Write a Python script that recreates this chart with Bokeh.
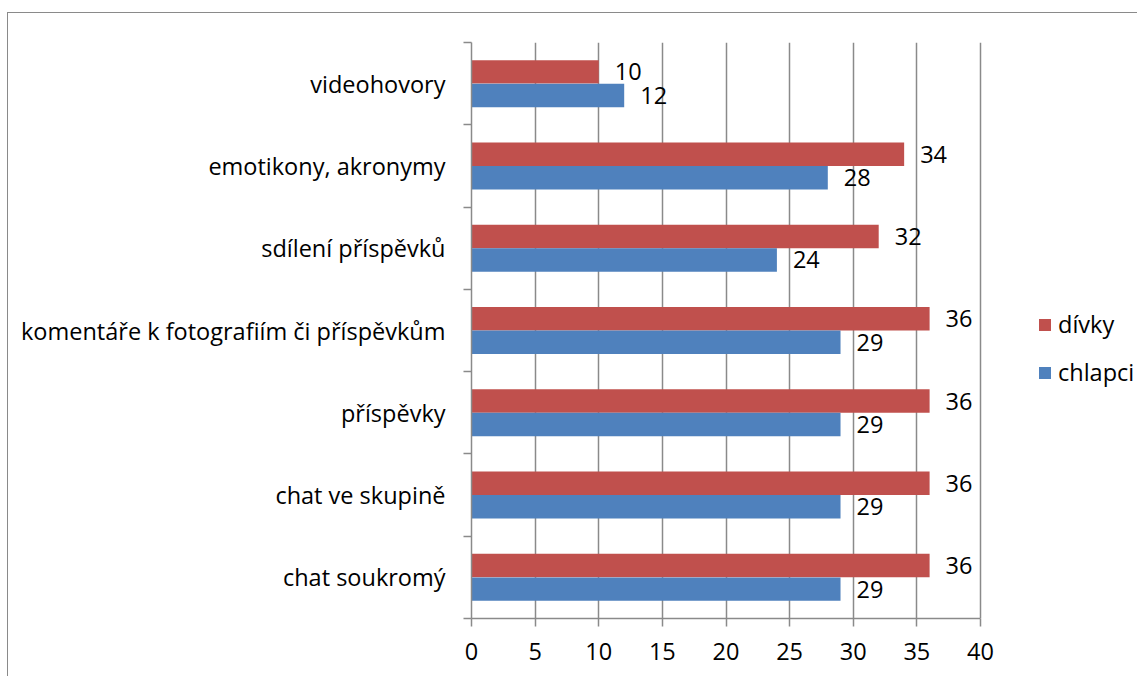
from bokeh.plotting import figure
from bokeh.models import Range1d, FixedTicker, Legend, LegendItem, ColumnDataSource
from bokeh.transform import dodge
from bokeh.core.properties import value
from bokeh.embed import file_html
from bokeh.resources import INLINE

categories = ["chat soukromý", "chat ve skupině", "příspěvky",
              "komentáře k fotografiím či příspěvkům", "sdílení příspěvků",
              "emotikony, akronymy", "videohovory"]
divky = [36, 36, 36, 36, 32, 34, 10]
chlapci = [29, 29, 29, 29, 24, 28, 12]
x_ticks = [0, 5, 10, 15, 20, 25, 30, 35, 40]

RED = "#C0504D"
BLUE = "#4F81BD"
GRAY = "#8a8a8a"
FONT = "Open Sans"
FS = "23.5px"

n = len(categories)
idx = list(range(n))

# canvas geometry (canvas origin sits at page (8, 13) because of CSS margin+border)
W, H = 1130, 664
F_LEFT, F_TOP, F_BOTTOM = 463, 29, 605
AXIS_PX = 509          # pixels spanned by 0..40
F_RIGHT = W - 4
x_end = x_ticks[-1] * (F_RIGHT - F_LEFT) / AXIS_PX

p = figure(width=W, height=H, output_backend="svg", toolbar_location=None,
           y_range=Range1d(-0.5, n - 0.5), x_range=Range1d(0, x_end),
           min_border_left=F_LEFT, min_border_right=W - F_RIGHT,
           min_border_top=F_TOP, min_border_bottom=H - F_BOTTOM)
p.outline_line_color = None
p.background_fill_color = "white"
p.border_fill_color = "white"
p.styles = {"margin-left": "7px", "margin-top": "12px",
            "border-left": "1px solid #8a8a8a", "border-top": "1px solid #8a8a8a"}

src = ColumnDataSource(dict(idx=idx, cat=categories, d=divky, c=chlapci,
                            dl=[str(v) for v in divky], cl=[str(v) for v in chlapci]))

rd = p.hbar(y=dodge("idx", 0.143), right="d", left=0, height=0.285,
            source=src, fill_color=RED, line_color=None)
rc = p.hbar(y=dodge("idx", -0.143), right="c", left=0, height=0.285,
            source=src, fill_color=BLUE, line_color=None)

p.text(x="d", y=dodge("idx", 0.143), text="dl", source=src,
       x_offset=16, text_baseline="middle", text_font=value(FONT),
       text_font_size=FS, text_color="black")
p.text(x="c", y=dodge("idx", -0.143), text="cl", source=src,
       x_offset=16, text_baseline="middle", text_font=value(FONT),
       text_font_size=FS, text_color="black")

# x axis
xa = p.xaxis[0]
xa.ticker = FixedTicker(ticks=x_ticks)
xa.bounds = (x_ticks[0], x_ticks[-1])
xa.axis_line_color = GRAY
xa.axis_line_width = 1.5
xa.major_tick_line_color = GRAY
xa.major_tick_line_width = 1.5
xa.major_tick_out = 8
xa.major_tick_in = 0
xa.minor_tick_line_color = None
xa.major_label_text_font = FONT
xa.major_label_text_font_size = FS
xa.major_label_text_color = "black"
xa.major_label_standoff = 16

p.xgrid.ticker = FixedTicker(ticks=x_ticks)
p.xgrid.grid_line_color = GRAY
p.xgrid.grid_line_width = 1.5
p.ygrid.grid_line_color = None

# y axis: labels at category centres, tick marks at category boundaries
ya = p.yaxis[0]
ya.ticker = FixedTicker(ticks=idx, minor_ticks=[i - 0.5 for i in range(n + 1)])
ya.major_label_overrides = {i: c for i, c in zip(idx, categories)}
ya.axis_line_color = GRAY
ya.axis_line_width = 1.5
ya.major_tick_line_color = None
ya.major_tick_out = 8
ya.major_tick_in = 0
ya.minor_tick_line_color = GRAY
ya.minor_tick_line_width = 1.5
ya.minor_tick_out = 8
ya.minor_tick_in = 0
ya.major_label_text_font = FONT
ya.major_label_text_font_size = FS
ya.major_label_text_color = "black"
ya.major_label_standoff = 18

legend = Legend(items=[LegendItem(label="dívky", renderers=[rd]),
                       LegendItem(label="chlapci", renderers=[rc])],
                location=(566, 230), orientation="vertical")
legend.label_text_font = FONT
legend.label_text_font_size = FS
legend.label_text_color = "black"
legend.glyph_width = 15
legend.glyph_height = 15
legend.label_standoff = 6
legend.spacing = 16
legend.padding = 0
legend.margin = 0
legend.border_line_color = None
legend.background_fill_alpha = 0
p.add_layout(legend)

open("out.html", "w").write(file_html(p, INLINE))
